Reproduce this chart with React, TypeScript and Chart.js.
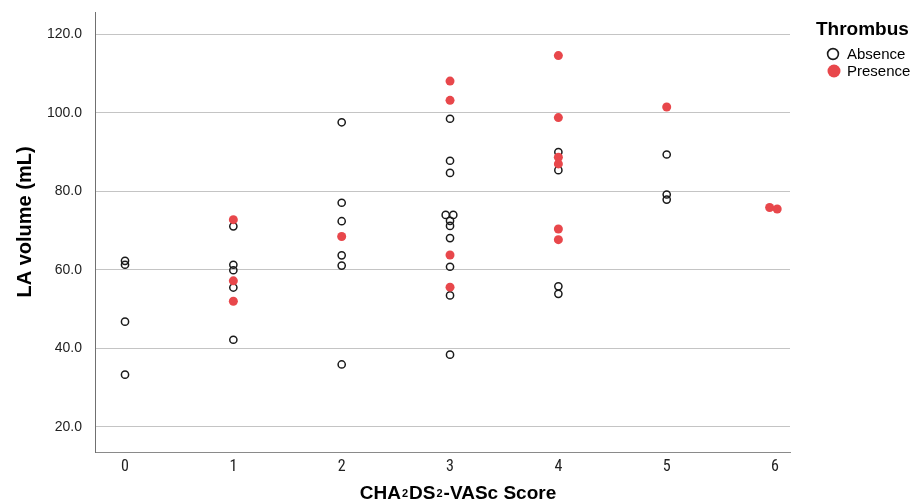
import { useEffect, useRef } from "react";
import { Chart, registerables } from "chart.js";

Chart.register(...registerables);

// ---- data ----
const scoreTicks = [0, 1, 2, 3, 4, 5, 6];
const volumeTicks = [20, 40, 60, 80, 100, 120];

const absenceScore = [
  0, 0, 0, 0,
  1, 1, 1, 1, 1,
  2, 2, 2, 2, 2, 2,
  3, 3, 3, 2.96, 3.03, 3, 3, 3, 3, 3, 3,
  4, 4, 4, 4,
  5, 5, 5,
];
const absenceVolume = [
  62.3, 61.3, 46.8, 33.3,
  71.1, 61.3, 59.9, 55.5, 42.2,
  97.6, 77.1, 72.4, 63.7, 61.1, 35.9,
  98.5, 87.8, 84.7, 74.0, 74.0, 72.5, 71.2, 68.1, 60.8, 53.5, 38.4,
  90.0, 85.4, 55.8, 53.9,
  89.4, 79.2, 77.9,
];

const presenceScore = [
  1, 1, 1,
  2,
  3, 3, 3, 3,
  4, 4, 4, 4, 4, 4,
  5,
  5.95, 6.02,
];
const presenceVolume = [
  72.8, 57.2, 52.0,
  68.5,
  108.1, 103.2, 63.8, 55.6,
  114.6, 98.8, 88.7, 87.0, 70.4, 67.7,
  101.5,
  75.9, 75.5,
];

const seriesLabels = ["Absence", "Presence"];
const legendTitle = "Thrombus";
const yTitle = "LA volume (mL)";
const xTitleParts: [string, boolean][] = [
  ["CHA", false],
  ["2", true],
  ["DS", false],
  ["2", true],
  ["-VASc Score", false],
];

const SANS = "'Liberation Sans', Arial, Helvetica, sans-serif";
const NARROW = "'Liberation Sans Narrow', 'Arial Narrow', 'Roboto Condensed', 'DejaVu Sans Condensed', 'Liberation Sans', sans-serif";
const RED = "#E8474B";

const overlayPlugin = {
  id: "overlay",
  afterDraw(chart: any) {
    const ctx = chart.ctx as CanvasRenderingContext2D;
    ctx.save();
    // legend title
    ctx.fillStyle = "#000";
    ctx.textBaseline = "alphabetic";
    ctx.textAlign = "left";
    ctx.font = `bold 19px ${SANS}`;
    ctx.fillText(legendTitle, 816, 35);
    // legend items
    const ds = chart.data.datasets;
    const rows = [54, 71];
    ds.forEach((d: any, i: number) => {
      const y = rows[i];
      ctx.beginPath();
      if (i === 0) {
        ctx.arc(833, y, 5.4, 0, Math.PI * 2);
        ctx.lineWidth = 1.6;
        ctx.strokeStyle = d.borderColor;
        ctx.stroke();
      } else {
        ctx.arc(834, y, 6.5, 0, Math.PI * 2);
        ctx.fillStyle = d.backgroundColor;
        ctx.fill();
      }
      ctx.fillStyle = "#000";
      ctx.font = `15px ${SANS}`;
      ctx.textBaseline = "middle";
      ctx.fillText(d.label, 847, y + 1);
    });
    // y title (rotated)
    ctx.save();
    ctx.translate(25, 222);
    ctx.rotate(-Math.PI / 2);
    ctx.textAlign = "center";
    ctx.textBaseline = "middle";
    ctx.font = `bold 20px ${SANS}`;
    ctx.fillStyle = "#000";
    ctx.fillText(yTitle, 0, 0);
    ctx.restore();
    // x title with subscripts
    const big = `bold 19px ${SANS}`;
    const small = `bold 11px ${SANS}`;
    let total = 0;
    xTitleParts.forEach(([t, sub]) => {
      ctx.font = sub ? small : big;
      total += ctx.measureText(t).width + (sub ? 2 : 0);
    });
    let x = 458 - total / 2;
    const base = 499;
    ctx.textAlign = "left";
    ctx.textBaseline = "alphabetic";
    ctx.fillStyle = "#000";
    xTitleParts.forEach(([t, sub]) => {
      ctx.font = sub ? small : big;
      if (sub) x += 1;
      ctx.fillText(t, x, sub ? base - 2 : base);
      x += ctx.measureText(t).width + (sub ? 1 : 0);
    });
    ctx.restore();
  },
};

export default function App() {
  const ref = useRef<HTMLCanvasElement | null>(null);

  useEffect(() => {
    if (!ref.current) return;
    const chart = new Chart(ref.current, {
      type: "scatter",
      data: {
        datasets: [
          {
            label: seriesLabels[0],
            data: absenceScore.map((s, i) => ({ x: s, y: absenceVolume[i] })),
            pointRadius: 3.6,
            pointHoverRadius: 3.6,
            borderWidth: 1.5,
            borderColor: "#1a1a1a",
            backgroundColor: "rgba(255,255,255,0)",
            order: 1,
          },
          {
            label: seriesLabels[1],
            data: presenceScore.map((s, i) => ({ x: s, y: presenceVolume[i] })),
            pointRadius: 4.5,
            pointHoverRadius: 4.5,
            borderWidth: 0,
            borderColor: RED,
            backgroundColor: RED,
            order: 0,
          },
        ],
      },
      plugins: [overlayPlugin],
      options: {
        animation: false,
        responsive: false,
        maintainAspectRatio: false,
        layout: { padding: { top: 12, right: 130, bottom: 0, left: 0 } },
        plugins: {
          legend: { display: false },
          tooltip: { enabled: false },
        },
        scales: {
          x: {
            type: "linear",
            min: -0.277,
            max: 6.138,
            afterBuildTicks: (s: any) => {
              s.ticks = scoreTicks.map((v) => ({ value: v }));
            },
            afterFit: (s: any) => {
              s.height = 52;
              s.paddingLeft = 0;
              s.paddingRight = 0;
            },
            grid: { display: false, drawTicks: false },
            border: { display: true, color: "#8a8a8a", width: 1 },
            ticks: {
              padding: 5,
              color: "#222",
              font: { family: NARROW, size: 16 },
              callback: (v: any) => String(v),
            },
            title: { display: false },
          },
          y: {
            type: "linear",
            min: 13.6,
            max: 125.7,
            afterBuildTicks: (s: any) => {
              s.ticks = volumeTicks.map((v) => ({ value: v }));
            },
            afterFit: (s: any) => {
              s.width = 95;
              s.paddingTop = 0;
              s.paddingBottom = 0;
            },
            grid: { color: "#c4c4c4", lineWidth: 1, drawTicks: false },
            border: { display: true, color: "#707070", width: 1 },
            ticks: {
              padding: 13,
              color: "#222",
              font: { family: SANS, size: 14 },
              callback: (v: any) => Number(v).toFixed(1),
            },
            title: { display: false },
          },
        },
      },
    });
    return () => chart.destroy();
  }, []);

  return (
    <div style={{ position: "fixed", left: 0, top: 0, width: 920, height: 504, background: "#fff" }}>
      <canvas ref={ref} width={920} height={504} style={{ display: "block" }} />
    </div>
  );
}
